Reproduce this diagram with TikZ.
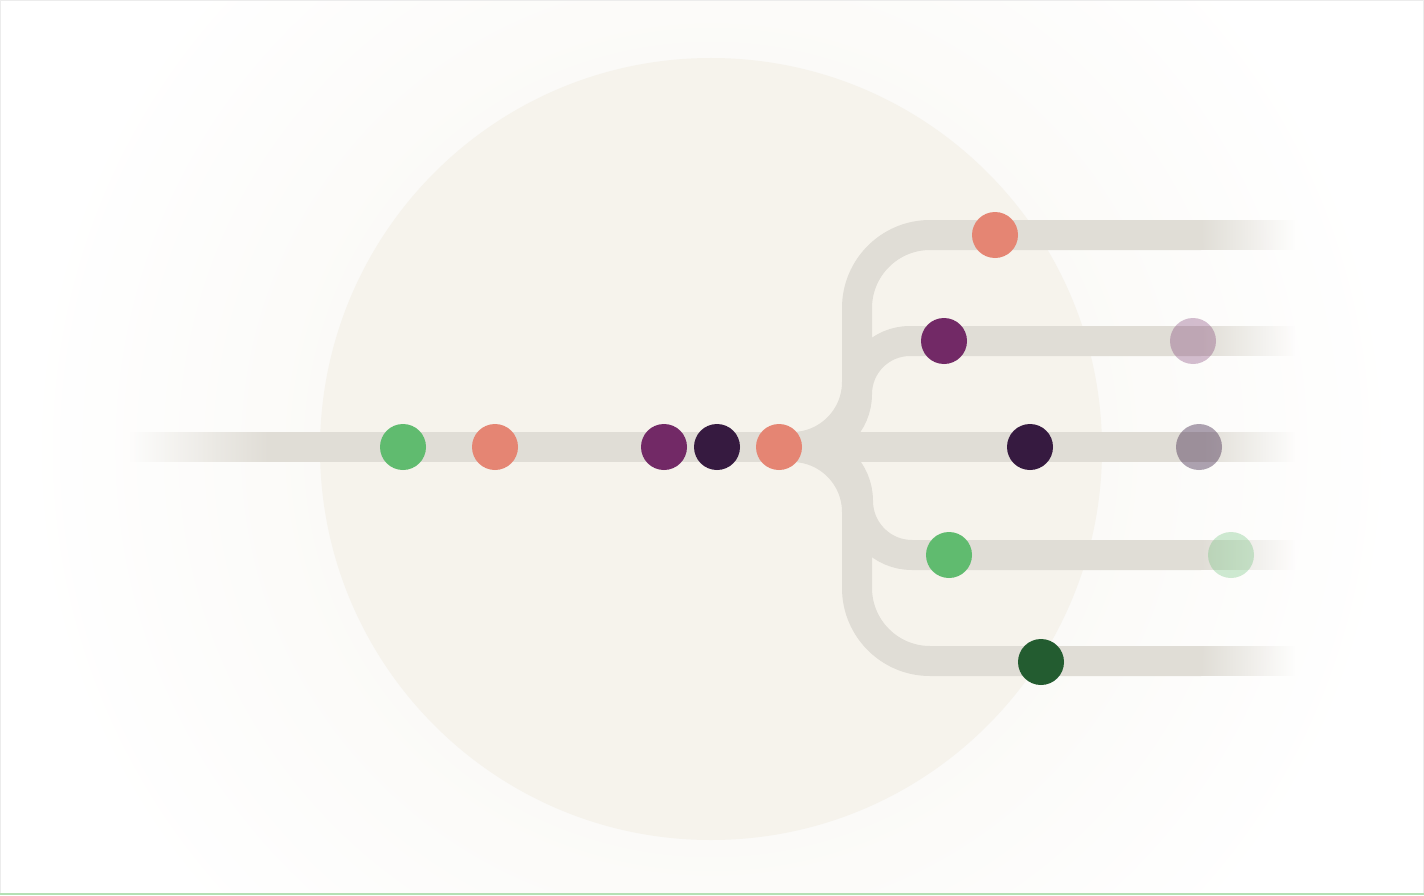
\documentclass[tikz,border=0pt]{standalone}
\usetikzlibrary{fadings}
\definecolor{halo}{HTML}{F6F4EE}
\definecolor{disc}{HTML}{F6F3EC}
\definecolor{railgray}{HTML}{E0DDD6}
\definecolor{leaf}{HTML}{60BB6F}
\definecolor{coral}{HTML}{E58573}
\definecolor{plum}{HTML}{722966}
\definecolor{ink}{HTML}{361A40}
\definecolor{forest}{HTML}{235C30}
\definecolor{edgegray}{HTML}{ECECEC}
\definecolor{rim}{HTML}{B4E0B4}
\tikzfading[name=fade right, left color=transparent!0, right color=transparent!100]
\tikzfading[name=fade left, left color=transparent!100, right color=transparent!0]
\tikzset{
  track/.style={draw=railgray, line width=30pt},
  dot/.style={circle, fill=#1, minimum size=46pt, inner sep=0pt},
  ghost/.style={dot=#1, fill opacity=0.3},
}
\begin{document}
\begin{tikzpicture}[x=1pt, y=1pt]
    \useasboundingbox (0,-448) rectangle (1424,447);
    \clip (0,-448) rectangle (1424,447);
    \fill[white] (0,-448) rectangle (1424,447);
    \shade[inner color=halo, outer color=white] (711,-2) circle (690pt);
    \fill[disc] (711,-2) circle (391pt);
    \coordinate (west) at (269,0);
    \coordinate (fork) at (792,0);
    \coordinate (split) at (804,0);
    \coordinate (east) at (1201,0);
    \draw[track] (west) -- (east);
    \draw[track] (fork) arc[start angle=-90, end angle=0, radius=65pt] -- (857,139)
        arc[start angle=180, end angle=90, radius=73pt] -- (1201,212);
    \draw[track] (split) arc[start angle=-90, end angle=0, radius=53pt]
        arc[start angle=180, end angle=90, radius=53pt] -- (1201,106);
    \draw[track] (fork) arc[start angle=90, end angle=0, radius=65pt] -- (857,-141)
        arc[start angle=180, end angle=270, radius=73pt] -- (1201,-214);
    \draw[track] (split) arc[start angle=90, end angle=0, radius=54pt]
        arc[start angle=180, end angle=270, radius=54pt] -- (1201,-108);
    \fill[railgray, path fading=fade left] (130,-15) rectangle (270,15);
    \foreach \y in {212,106,0,-108,-214}
        \fill[railgray, path fading=fade right] (1200,\y-15) rectangle (1295,\y+15);
    \node[dot=leaf] (g1) at (403,0) {};
    \node[dot=coral] (c1) at (495,0) {};
    \node[dot=plum] (p1) at (664,0) {};
    \node[dot=ink] (k1) at (717,0) {};
    \node[dot=coral] (c2) at (779,0) {};
    \node[dot=coral] (c3) at (995,212) {};
    \node[dot=plum] (p2) at (944,106) {};
    \node[ghost=plum] (p3) at (1193,106) {};
    \node[dot=ink] (k2) at (1030,0) {};
    \node[ghost=ink, fill opacity=0.4] (k3) at (1199,0) {};
    \node[dot=leaf] (g2) at (949,-108) {};
    \node[ghost=leaf] (g3) at (1231,-108) {};
    \node[dot=forest] (f1) at (1041,-215) {};
    \draw[edgegray, line width=1pt] (0.5,-447.5) rectangle (1423.5,446.5);
    \draw[rim, line width=1.6pt] (0,-447.2) -- (1424,-447.2);
\end{tikzpicture}
\end{document}
